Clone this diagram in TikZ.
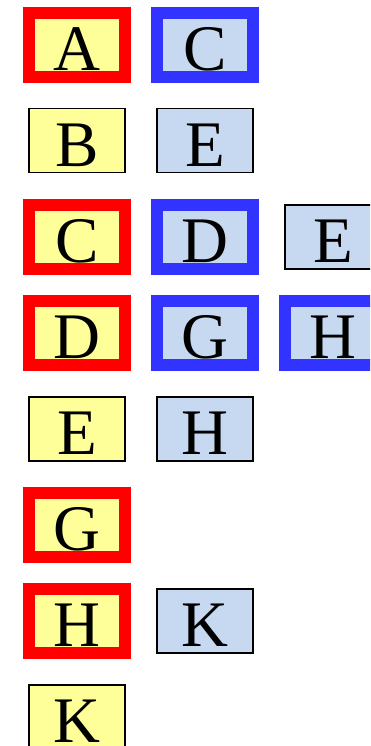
\documentclass[tikz,border=0pt]{standalone}
\usepackage{fontspec}
\setmainfont{Liberation Serif}
\definecolor{paleyellow}{RGB}{255,255,153}
\definecolor{paleblue}{RGB}{198,217,240}
\definecolor{markred}{RGB}{255,0,0}
\definecolor{markblue}{RGB}{51,51,255}
\tikzset{
  cell/.style={minimum width=96pt, minimum height=64pt, inner sep=0pt,
    text height=51pt, text depth=0pt, font=\fontsize{65}{65}\selectfont},
  ycell/.style={cell, fill=paleyellow, draw=black, line width=1.6pt},
  bcell/.style={cell, fill=paleblue, draw=black, line width=1.6pt},
  redcell/.style={cell, fill=paleyellow, draw=markred, line width=12pt},
  bluecell/.style={cell, fill=paleblue, draw=markblue, line width=12pt}
}
\begin{document}
\begin{tikzpicture}[x=1pt, y=-1pt]
  \useasboundingbox (0,0) rectangle (370,746);
  \clip (0,0) rectangle (370,746);
  % first column
  \node[redcell] (a1) at (77,44.7)  {A};
  \node[ycell]   (b1) at (77,140.7) {B};
  \node[redcell] (c1) at (77,236.7) {C};
  \node[redcell] (d1) at (77,332.7) {D};
  \node[ycell]   (e1) at (77,428.7) {E};
  \node[redcell] (g1) at (77,524.7) {G};
  \node[redcell] (h1) at (77,620.7) {H};
  \node[ycell]   (k1) at (77,716.7) {K};
  % second column
  \node[bluecell] (c2) at (205,44.7)  {C};
  \node[bcell]    (e2) at (205,140.7) {E};
  \node[bluecell] (d2) at (205,236.7) {D};
  \node[bluecell] (g2) at (205,332.7) {G};
  \node[bcell]    (h2) at (205,428.7) {H};
  \node[bcell]    (k2) at (205,620.7) {K};
  % third column
  \node[bcell]    (e3) at (333,236.7) {E};
  \node[bluecell] (h3) at (333,332.7) {H};
\end{tikzpicture}
\end{document}
